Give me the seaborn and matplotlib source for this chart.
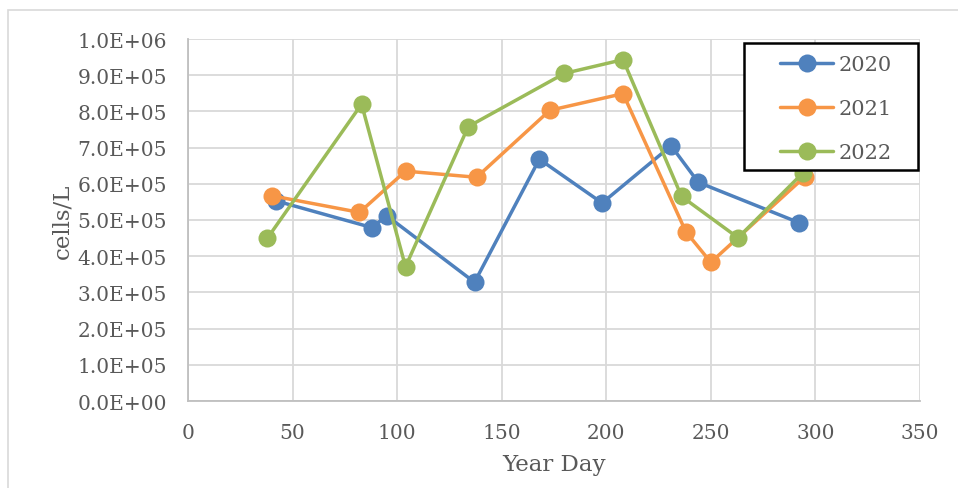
import matplotlib
matplotlib.use("Agg")
import matplotlib.pyplot as plt
import seaborn as sns
import pandas as pd
from matplotlib.ticker import FuncFormatter, MultipleLocator
from matplotlib.lines import Line2D
from matplotlib.patches import Rectangle

# Data
days_2020 = [42, 88, 95, 137, 168, 198, 231, 244, 292]
cells_2020 = [5.53e5, 4.79e5, 5.12e5, 3.28e5, 6.68e5, 5.47e5, 7.05e5, 6.04e5, 4.93e5]

days_2021 = [40, 82, 104, 138, 173, 208, 238, 250, 295]
cells_2021 = [5.67e5, 5.21e5, 6.35e5, 6.18e5, 8.03e5, 8.49e5, 4.68e5, 3.83e5, 6.20e5]

days_2022 = [38, 83, 104, 134, 180, 208, 236, 263, 294]
cells_2022 = [4.50e5, 8.20e5, 3.71e5, 7.58e5, 9.05e5, 9.43e5, 5.65e5, 4.51e5, 6.30e5]

years = ["2020", "2021", "2022"]
colors = ["#4F81BD", "#F79646", "#9BBB59"]

frames = []
for yr, d, c in zip(years, [days_2020, days_2021, days_2022], [cells_2020, cells_2021, cells_2022]):
    frames.append(pd.DataFrame({"day": d, "cells": c, "year": yr}))
df = pd.concat(frames, ignore_index=True)

sns.set_theme(style="white")
plt.rcParams["font.family"] = ["DejaVu Serif"]


def sci_fmt(v, pos):
    if v <= 0:
        return "0.0E+00"
    s = "%.1E" % v
    mant, exp = s.split("E")
    return "%sE+%02d" % (mant, int(exp))


W, H = 958, 489
fig = plt.figure(figsize=(W / 100, H / 100), dpi=100)
ax = fig.add_axes([188 / W, 1 - 402 / H, (920 - 188) / W, (402 - 40) / H])

sns.lineplot(data=df, x="day", y="cells", hue="year", hue_order=years,
             palette=dict(zip(years, colors)), marker="o", markersize=13,
             markeredgewidth=0, linewidth=2.5, sort=False, estimator=None,
             ax=ax, legend=False, zorder=3)

ax.set_xlim(0, 350)
ax.set_ylim(0, 1.0e6)
ax.xaxis.set_major_locator(MultipleLocator(50))
ax.yaxis.set_major_locator(MultipleLocator(1e5))
ax.yaxis.set_major_formatter(FuncFormatter(sci_fmt))

ax.grid(True, color="#D9D9D9", linewidth=1.3)
ax.set_axisbelow(True)
for s in ["top", "right"]:
    ax.spines[s].set_visible(False)
for s in ["left", "bottom"]:
    ax.spines[s].set_color("#BFBFBF")
    ax.spines[s].set_linewidth(1.3)

tc = "#595959"
ax.tick_params(axis="y", length=0, labelsize=14.5, labelcolor=tc, pad=15)
ax.tick_params(axis="x", length=0, labelsize=14.5, labelcolor=tc, pad=16)
ax.set_xlabel("Year Day", fontsize=16.5, color=tc, labelpad=8)
ax.set_ylabel("cells/L", fontsize=16.5, color=tc, labelpad=3)

# Legend frame (drawn separately to match the wide left padding)
ax.add_patch(Rectangle((744 / W, 1 - 171 / H), (918 - 744) / W, (171 - 44) / H,
                       transform=fig.transFigure, facecolor="white", edgecolor="black",
                       linewidth=1.8, zorder=4, clip_on=False))

handles = [Line2D([0], [0], color=c, marker="o", markersize=13, markeredgewidth=0, linewidth=2.5)
           for c in colors]
leg = ax.legend(handles, years, loc="upper left",
                bbox_to_anchor=(780 / W, 1 - 56 / H), bbox_transform=fig.transFigure,
                frameon=False, fontsize=15, handlelength=2.55,
                labelspacing=1.2, borderpad=0, borderaxespad=0, handletextpad=0.25,
                labelcolor=tc)
leg.set_zorder(5)

fig.patches.append(Rectangle((8 / W, -0.1), 1.2, 1 - 11 / H + 0.1,
                             transform=fig.transFigure, fill=False,
                             edgecolor="#D9D9D9", linewidth=1.2))

fig.savefig("out.png", dpi=100)
